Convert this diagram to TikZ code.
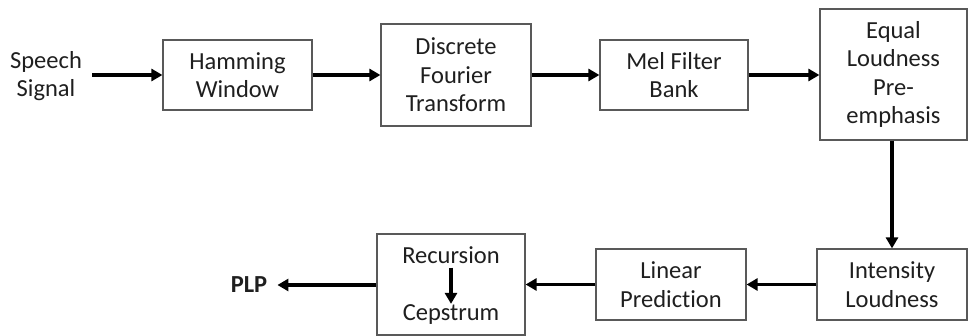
\documentclass[tikz,border=0pt]{standalone}
\usepackage{fontspec}
\setmainfont{Carlito}[Ligatures=NoCommon]
\usetikzlibrary{arrows.meta}
\begin{document}
\begin{tikzpicture}[x=1pt,y=-1pt,
  blk/.style={draw=black!65,line width=1.2pt,fill=white,align=center,
    inner sep=0pt,font=\fontsize{24.5}{28.5}\selectfont,text=black!88},
  lbl/.style={align=center,inner sep=0pt,font=\fontsize{24.5}{28.5}\selectfont,text=black!88},
  flow/.style={draw=black,line width=3.4pt,-{Triangle[length=11pt,width=12pt]}}]
\useasboundingbox (0,0) rectangle (972,336);
% upper row
\node[lbl] (sig) at (46,76) {Speech\\Signal};
\node[blk,minimum width=149pt,minimum height=70pt] (ham) at (237.5,75) {Hamming\\Window};
\node[blk,minimum width=150pt,minimum height=102pt] (dft) at (456,75) {Discrete\\Fourier\\Transform};
\node[blk,minimum width=148pt,minimum height=70pt] (mel) at (674,75) {Mel Filter\\Bank};
\node[blk,minimum width=147pt,minimum height=131pt] (eql) at (893.5,74.5) {Equal\\Loudness\\Pre-\\emphasis};
% lower row
\node[blk,minimum width=150pt,minimum height=71pt] (int) at (892,284.5) {Intensity\\Loudness};
\node[blk,minimum width=150pt,minimum height=71pt] (lin) at (671,284.5) {Linear\\Prediction};
\node[blk,minimum width=148pt,minimum height=101pt] (rec) at (451,284.5) {};
\node[lbl] (recT) at (451,255) {Recursion};
\node[lbl] (cep) at (451,315) {Cepstrum};
\node[lbl,font=\bfseries\fontsize{24.5}{28.5}\selectfont] (plp) at (249,285) {PLP};
% connectors
\coordinate (s0) at (92,75);
\draw[flow] (s0) -- (ham.west);
\draw[flow] (ham.east) -- (dft.west);
\draw[flow] (dft.east) -- (mel.west);
\draw[flow] (mel.east) -- (eql.west |- mel.east);
\draw[flow] (eql.south -| int.north) -- (int.north);
\draw[flow] (int.west) -- (lin.east);
\draw[flow] (lin.west) -- (rec.east |- lin.west);
\draw[flow] (rec.west |- plp) -- ([xshift=10pt]plp.east);
\draw[flow] ([yshift=-4pt]recT.south) -- ([yshift=1pt]cep.north);
\end{tikzpicture}
\end{document}
